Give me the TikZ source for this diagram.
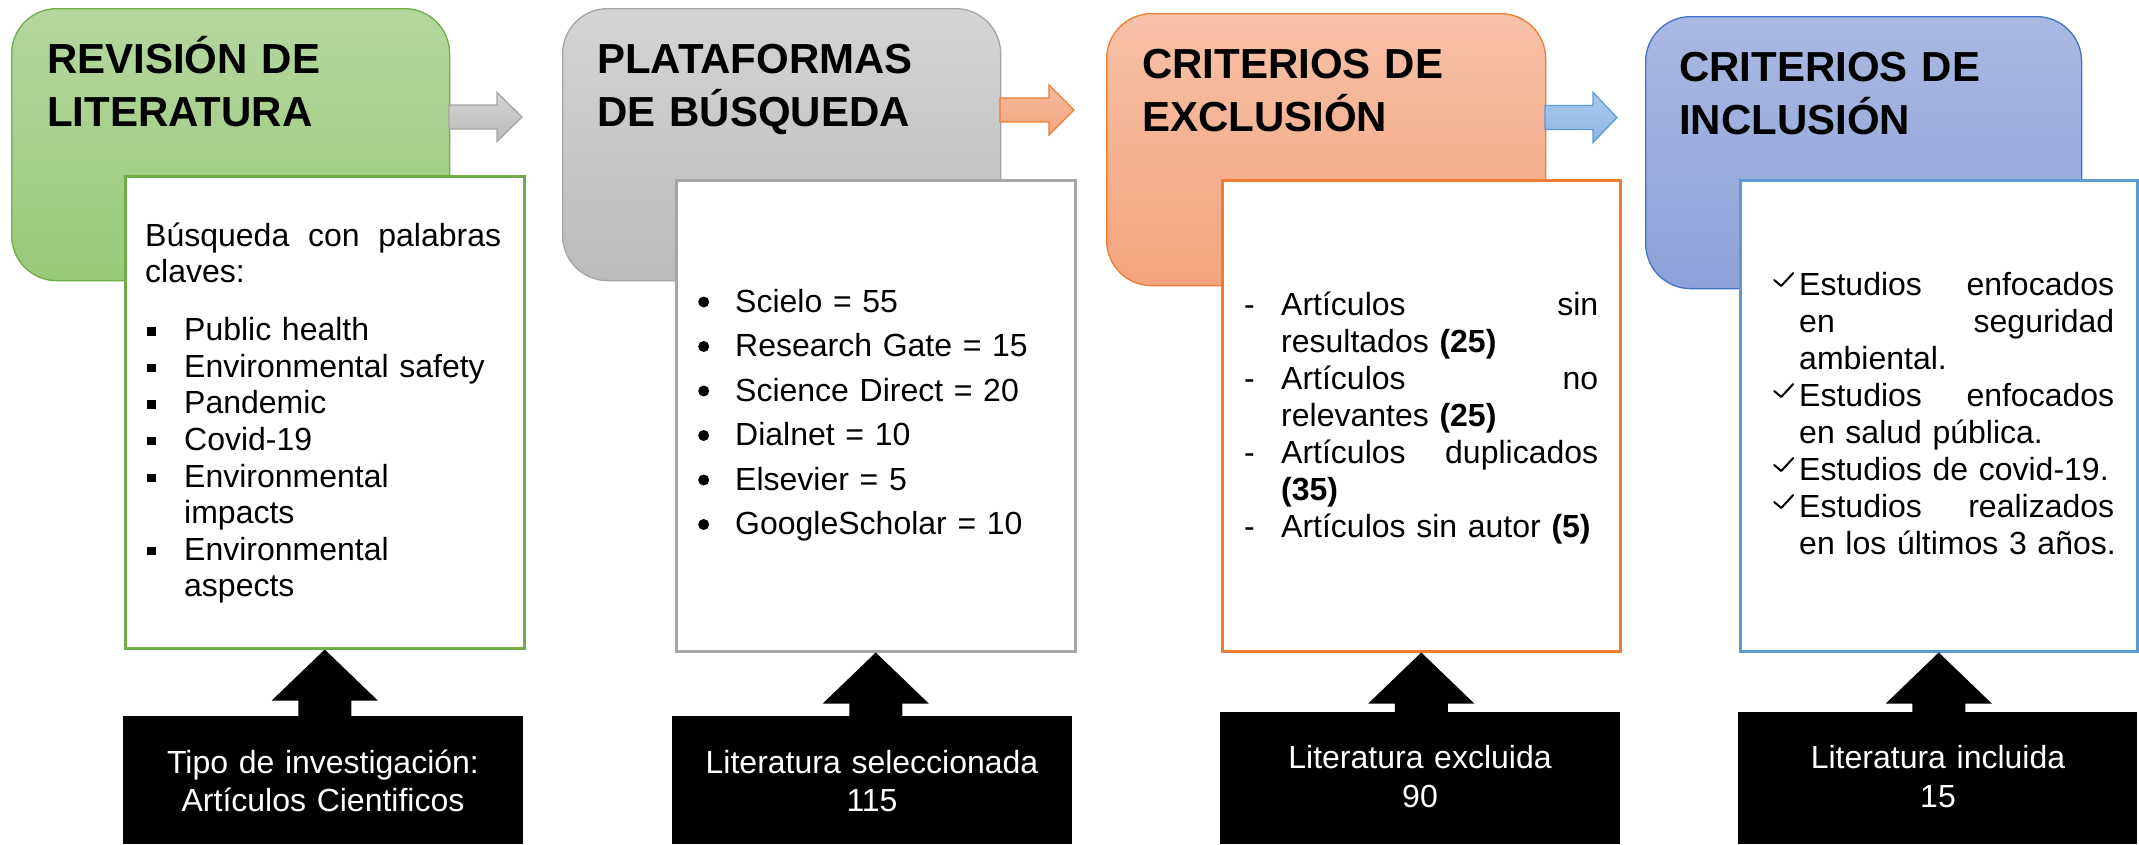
\documentclass[tikz,border=0pt]{standalone}
\usepackage{fontspec}
\setmainfont{Liberation Sans}
\usetikzlibrary{calc}
\definecolor{gA}{HTML}{B4D79F}
\definecolor{gB}{HTML}{98C97A}
\definecolor{gL}{HTML}{70AD47}
\definecolor{yA}{HTML}{D4D4D4}
\definecolor{yB}{HTML}{BBBBBB}
\definecolor{yL}{HTML}{A5A5A5}
\definecolor{oA}{HTML}{F7C0A8}
\definecolor{oB}{HTML}{F4A47E}
\definecolor{oL}{HTML}{ED7D31}
\definecolor{bA}{HTML}{AAB9E2}
\definecolor{bB}{HTML}{8CA2D9}
\definecolor{bL}{HTML}{4472C4}
\definecolor{bL2}{HTML}{5B9BD5}
\definecolor{oArrA}{HTML}{F6BA9C}
\definecolor{oArrB}{HTML}{F3A57F}
\definecolor{bArrA}{HTML}{A9C9EB}
\definecolor{bArrB}{HTML}{8FB6E2}
\newcommand\sqmark{\makebox[39pt][l]{\hspace{2pt}\raisebox{5pt}{\rule{8.5pt}{8.5pt}}}}
\newcommand\dotmark{\makebox[37pt][l]{\raisebox{4.5pt}{\tikz\fill (0,0) circle (5.5pt);}}}
\newcommand\dashmark{\makebox[37pt][l]{-}}
\newcommand\chkmark{\makebox[27pt][l]{\hspace{1pt}\raisebox{8pt}{\tikz\draw[line width=2pt, line join=round, line cap=round] (0pt,6pt) -- (7pt,0pt) -- (19pt,13pt);}}}
\begin{document}
\begin{tikzpicture}[x=1pt,y=-1pt,
  phase/.style={draw=#1, line width=1.3pt, rounded corners=45pt, anchor=north west, inner sep=0pt},
  wbox/.style={draw=#1, fill=white, line width=2.5pt, anchor=north west, inner sep=0pt},
  kbox/.style={fill=black, anchor=north west, inner sep=0pt},
  harrow/.style={draw=#1, line width=1.3pt},
  title/.style={anchor=base west, inner sep=0pt, text width=430pt, align=left,
    font=\fontsize{42}{53.5}\selectfont\bfseries},
  body/.style={anchor=base west, inner sep=0pt, align=left},
  ktext/.style={anchor=base, inner sep=0pt, text width=390pt, align=center, text=white,
    font=\fontsize{32}{38.5}\selectfont}
]
\useasboundingbox (0,0) rectangle (2139,844);

% phase boxes
\node[phase=gL, top color=gA, bottom color=gB, minimum width=438pt, minimum height=272pt] (g1) at (11,8) {};
\node[phase=yL, top color=yA, bottom color=yB, minimum width=438pt, minimum height=272pt] (g2) at (562,8) {};
\node[phase=oL, top color=oA, bottom color=oB, minimum width=439pt, minimum height=272pt] (g3) at (1106,13) {};
\node[phase=bL, top color=bA, bottom color=bB, minimum width=436pt, minimum height=272pt] (g4) at (1645,16) {};

% horizontal block arrows
\coordinate (a1) at (449,117);
\coordinate (a2) at (1000,110);
\coordinate (a3) at (1545,117.5);
\draw[harrow=yL, top color=yA, bottom color=yB] (a1) ++(0,-12) -- ++(48,0) -- ++(0,-12.5) -- ++(25,24.5) -- ++(-25,24.5) -- ++(0,-12.5) -- ++(-48,0) -- cycle;
\draw[harrow=oL, top color=oArrA, bottom color=oArrB] (a2) ++(0,-12) -- ++(49,0) -- ++(0,-13) -- ++(25,25) -- ++(-25,25) -- ++(0,-13) -- ++(-49,0) -- cycle;
\draw[harrow=bL2, top color=bArrA, bottom color=bArrB] (a3) ++(0,-12) -- ++(48,0) -- ++(0,-13) -- ++(24,25) -- ++(-24,25) -- ++(0,-13) -- ++(-48,0) -- cycle;

% white content boxes
\node[wbox=gL, minimum width=399pt, minimum height=472pt] (w1) at (124,175) {};
\node[wbox=yL, minimum width=399pt, minimum height=471pt] (w2) at (675,179) {};
\node[wbox=oL, minimum width=398pt, minimum height=471pt] (w3) at (1221,179) {};
\node[wbox=bL2, minimum width=397pt, minimum height=471pt] (w4) at (1739,179) {};

% black boxes
\node[kbox, minimum width=400pt, minimum height=128pt] (k1) at (123,716) {};
\node[kbox, minimum width=400pt, minimum height=128pt] (k2) at (672,716) {};
\node[kbox, minimum width=400pt, minimum height=132pt] (k3) at (1220,712) {};
\node[kbox, minimum width=399pt, minimum height=132pt] (k4) at (1738,712) {};

% up arrows
\foreach \i in {1,2,3,4}{
  \fill[black] (w\i.south) -- ++(53,51) -- ++(-26.5,0) |- (k\i.north) -| ($(w\i.south)+(-26.5,51)$) -- ++(-26.5,0) -- cycle;
}

% titles
\node[title] (t1) at (47,73) {REVISIÓN DE\\LITERATURA};
\node[title] (t2) at (597,73) {PLATAFORMAS\\DE BÚSQUEDA};
\node[title] (t3) at (1142,78) {CRITERIOS DE\\EXCLUSIÓN};
\node[title] (t4) at (1679,81) {CRITERIOS DE\\INCLUSIÓN};

% body texts
\node[body, text width=356pt, font=\fontsize{32}{36}\selectfont] (b1) at (145,246) {%
Búsqueda\hfill con\hfill palabras\\
claves:\\[22pt]
\fontsize{32}{36.6}\selectfont
\sqmark Public health\\
\sqmark Environmental safety\\
\sqmark Pandemic\\
\sqmark Covid-19\\
\sqmark Environmental\\
\hspace*{39pt}impacts\\
\sqmark Environmental\\
\hspace*{39pt}aspects};

\node[body, text width=376pt, font=\fontsize{32}{44.5}\selectfont] (b2) at (698,312) {%
\dotmark Scielo = 55\\
\dotmark Research Gate = 15\\
\dotmark Science Direct = 20\\
\dotmark Dialnet = 10\\
\dotmark Elsevier = 5\\
\dotmark GoogleScholar = 10};

\node[body, text width=354pt, font=\fontsize{32}{37}\selectfont] (b3) at (1244,315) {%
\dashmark Artículos\hfill sin\\
\hspace*{37pt}resultados \textbf{(25)}\\
\dashmark Artículos\hfill no\\
\hspace*{37pt}relevantes \textbf{(25)}\\
\dashmark Artículos\hfill duplicados\\
\hspace*{37pt}\textbf{(35)}\\
\dashmark Artículos sin autor \textbf{(5)}};

\node[body, text width=342pt, font=\fontsize{32}{37}\selectfont] (b4) at (1772,295) {%
\chkmark Estudios\hfill enfocados\\
\hspace*{27pt}en\hfill seguridad\\
\hspace*{27pt}ambiental.\\
\chkmark Estudios\hfill enfocados\\
\hspace*{27pt}en salud pública.\\
\chkmark Estudios de covid-19.\\
\chkmark Estudios\hfill realizados\\
\hspace*{27pt}\mbox{en los últimos 3 años.}};

% black box texts
\node[ktext] (l1) at (323,773) {Tipo de investigación:\\Artículos Cientificos};
\node[ktext] (l2) at (872,773) {Literatura seleccionada\\115};
\node[ktext] (l3) at (1420,768.5) {Literatura excluida\\90};
\node[ktext] (l4) at (1938,768.5) {Literatura incluida\\15};
\end{tikzpicture}
\end{document}
